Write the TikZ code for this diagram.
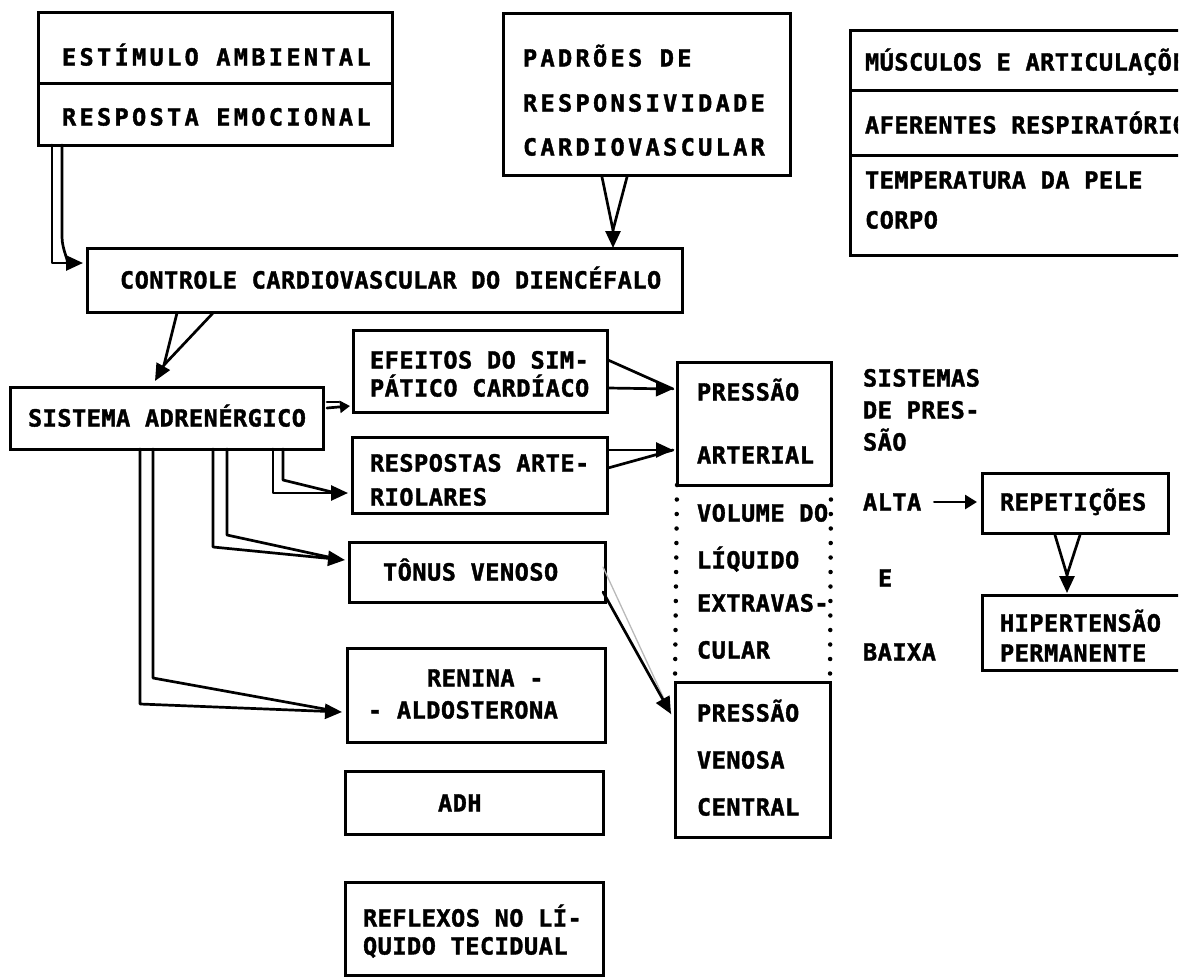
\documentclass[tikz,border=0pt]{standalone}
\usepackage{fontspec}
\usetikzlibrary{arrows.meta,calc}
\newfontfamily\twA[LetterSpace=2, BoldFeatures={FakeBold=1.6}]{DejaVu Sans Mono}
\newfontfamily\twB[LetterSpace=14, BoldFeatures={FakeBold=1.6}]{DejaVu Sans Mono}
\tikzset{
  box/.style={draw, line width=3pt, inner sep=0pt, outer sep=0pt, rectangle},
  divline/.style={line width=3pt},
  lbl/.style={inner sep=0pt, outer sep=0pt, anchor=west, text height=17pt, text depth=0pt,
              font=\twA\bfseries\fontsize{23.6}{27}\selectfont},
  wide/.style={font=\twB\bfseries\fontsize{23.6}{27}\selectfont},
  conn/.style={line width=2.7pt, line join=round, line cap=round},
  tip/.style={-{Triangle[length=17pt,width=15pt]}},
  smalltip/.style={-{Triangle[length=10pt,width=12pt]}},
  dots/.style={line width=4.5pt, line cap=round, dash pattern=on 0pt off 14.5pt},
}
\newcommand\mkbox[5]{%
  \pgfmathsetmacro\bxw{#4-#2}\pgfmathsetmacro\bxh{#5-#3}%
  \node[box, minimum width=\bxw pt, minimum height=\bxh pt] (#1) at ({(#2+#4)/2},{(#3+#5)/2}) {};}
\newcommand\T[4]{\node[lbl] (#1) at (#2,#3) {#4};}
\newcommand\TW[4]{\node[lbl,wide] (#1) at (#2,#3) {#4};}
\begin{document}
\begin{tikzpicture}[x=1pt,y=-1pt]
\useasboundingbox (0,0) rectangle (1195,978);
\begin{scope}
\clip (0,0) rectangle (1178,978);
% ---------------- boxes
\mkbox{amb}{38}{12}{392}{145}
\mkbox{pad}{503}{13}{790}{175}
\mkbox{aff}{850}{30}{1260}{255}
\mkbox{ctl}{87}{248}{682}{312}
\mkbox{sis}{10}{387}{323}{449}
\mkbox{efe}{353}{330}{607}{412}
\mkbox{res}{352}{437}{607}{513}
\mkbox{ton}{349}{542}{605}{602}
\mkbox{ren}{347}{648}{605}{742}
\mkbox{adh}{345}{771}{603}{834}
\mkbox{ref}{345}{882}{603}{975}
\mkbox{pa}{677}{362}{831}{485}
\mkbox{pvc}{675}{682}{830}{837}
\mkbox{rep}{982}{473}{1168}{533}
\mkbox{hip}{982}{595}{1260}{670}
% dividers
\draw[divline] ($(amb.north west)+(0,71)$) -- ($(amb.north east)+(0,71)$);
\draw[divline] ($(aff.north west)+(0,60)$) -- ($(aff.north east)+(0,60)$);
\draw[divline] ($(aff.north west)+(0,125)$) -- ($(aff.north east)+(0,125)$);
% dotted sides
\draw[dots] (pa.south west) -- (pvc.north west);
\draw[dots] (pa.south east) -- (pvc.north east);
% ---------------- texts
\TW{t1}{62}{57}{ESTÍMULO AMBIENTAL}
\TW{t2}{62}{117}{RESPOSTA EMOCIONAL}
\TW{t3}{523}{58}{PADRÕES DE}
\TW{t4}{523}{103}{RESPONSIVIDADE}
\TW{t5}{523}{147}{CARDIOVASCULAR}
\T{t6}{865}{62}{MÚSCULOS E ARTICULAÇÕES}
\T{t7}{865}{125}{AFERENTES RESPIRATÓRIOS}
\T{t8}{865}{180}{TEMPERATURA DA PELE}
\T{t9}{865}{220}{CORPO}
\T{t10}{120}{280}{CONTROLE CARDIOVASCULAR DO DIENCÉFALO}
\T{t11}{28}{418}{SISTEMA ADRENÉRGICO}
\T{t12}{370}{360}{EFEITOS DO SIM-}
\T{t13}{370}{388}{PÁTICO CARDÍACO}
\T{t14}{370}{463}{RESPOSTAS ARTE-}
\T{t15}{370}{497}{RIOLARES}
\T{t16}{383}{572}{TÔNUS VENOSO}
\T{t17}{427}{678}{RENINA -}
\T{t18}{368}{710}{- ALDOSTERONA}
\T{t19}{438}{803}{ADH}
\T{t20}{363}{918}{REFLEXOS NO LÍ-}
\T{t21}{363}{946}{QUIDO TECIDUAL}
\T{t22}{697}{392}{PRESSÃO}
\T{t23}{697}{455}{ARTERIAL}
\T{t24}{697}{513}{VOLUME DO}
\T{t25}{697}{560}{LÍQUIDO}
\T{t26}{697}{603}{EXTRAVAS-}
\T{t27}{697}{650}{CULAR}
\T{t28}{697}{713}{PRESSÃO}
\T{t29}{697}{760}{VENOSA}
\T{t30}{697}{807}{CENTRAL}
\T{t31}{863}{378}{SISTEMAS}
\T{t32}{863}{410}{DE PRES-}
\T{t33}{863}{442}{SÃO}
\T{alta}{863}{502}{ALTA}
\T{t35}{878}{578}{E}
\T{t36}{863}{652}{BAIXA}
\T{t37}{1000}{502}{REPETIÇÕES}
\T{t38}{1000}{623}{HIPERTENSÃO}
\T{t39}{1000}{653}{PERMANENTE}
% ---------------- connectors
% 1 amb -> ctl
\draw[conn] ($(amb.south west)+(14,0)$) |- ($(ctl.north west)+(-15,15)$);
\draw[conn,tip] ($(amb.south west)+(24,0)$) -- ($(amb.south west)+(24,92)$)
   to[out=-90,in=180] ($(ctl.north west)+(-4,15)$);
% 2 pad -> ctl
\coordinate (padA) at ($(ctl.north west)+(526,-18)$);
\draw[conn,tip] ($(pad.south west)+(99,2)$) -- (padA) -- ($(ctl.north west)+(526,0)$);
\draw[conn] ($(pad.south west)+(124,2)$) -- (padA);
% 3 ctl -> sis
\coordinate (ctlA) at ($(sis.north west)+(154,-22)$);
\draw[conn,tip] ($(ctl.south west)+(90,1)$) -- (ctlA) -- ($(sis.north west)+(145,-6)$);
\draw[conn] ($(ctl.south west)+(126,1)$) -- (ctlA);
% 4 sis -> efe
\draw[conn] ($(sis.north east)+(4,15)$) -- ++(12,0);
\draw[conn,smalltip] ($(sis.north east)+(4,21)$) -- ($(efe.south west)+(-3,-6)$);
% 5 sis -> res
\draw[conn,tip] ($(sis.south west)+(263,0)$) |- ($(res.south west)+(-4,-20)$);
\draw[conn] ($(sis.south west)+(273,0)$) -- ($(sis.south west)+(273,31)$) -- ($(res.south west)+(-20,-21)$);
% 6 sis -> ton
\draw[conn,tip] ($(sis.south west)+(203,0)$) -- ($(sis.south west)+(203,98)$) -- ($(ton.west)+(-4,-12)$);
\draw[conn] ($(sis.south west)+(217,0)$) -- ($(sis.south west)+(217,86)$) -- ($(ton.west)+(-16,-14)$);
% 7 sis -> ren
\draw[conn,tip] ($(sis.south west)+(130,0)$) -- ($(sis.south west)+(130,255)$) -- ($(ren.west)+(-5,17)$);
\draw[conn] ($(sis.south west)+(143,0)$) -- ($(sis.south west)+(143,229)$) -- ($(ren.west)+(-17,15)$);
% 8 efe -> pa
\coordinate (paA) at ($(pa.north west)+(-4,27)$);
\draw[conn] ($(efe.north east)+(1,30)$) -- (paA);
\draw[conn,tip] ($(efe.north east)+(1,58)$) -- (paA);
% 9 res -> pa
\coordinate (paB) at ($(pa.north west)+(-4,88)$);
\draw[conn,tip] ($(res.north east)+(1,13)$) -- (paB);
\draw[conn] ($(res.north east)+(1,31)$) -- (paB);
% 10 ton -> pvc
\coordinate (pvcA) at ($(pvc.north west)+(-4,32)$);
\draw[conn,gray!55,line width=1.3pt] ($(ton.north east)+(-2,25)$) -- (pvcA);
\draw[conn,tip] ($(ton.north east)+(-2,50)$) -- (pvcA);
% 11 alta -> rep
\draw[conn,-{Triangle[length=12pt,width=14pt]}] ($(alta.east)+(13,0)$) -- ($(rep.west)+(-5,-1)$);
% 12 rep -> hip
\coordinate (hipA) at ($(hip.north west)+(85,-20)$);
\draw[conn,tip] ($(rep.south west)+(73,2)$) -- (hipA) -- ($(hip.north west)+(85,-2)$);
\draw[conn] ($(rep.south west)+(98,2)$) -- (hipA);
\end{scope}
\end{tikzpicture}
\end{document}
